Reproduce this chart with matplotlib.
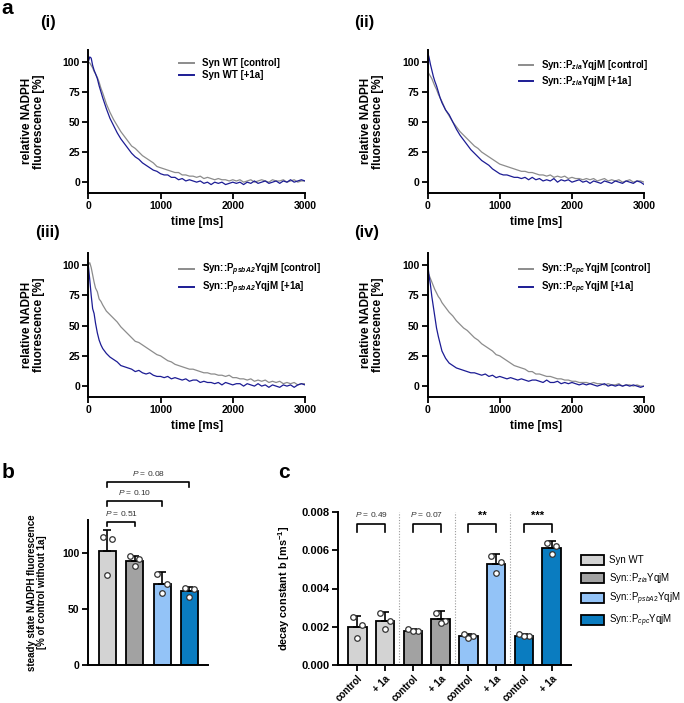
import matplotlib
matplotlib.use("Agg")
import matplotlib.pyplot as plt
from matplotlib.patches import Patch

plt.rcParams['font.family'] = ['Liberation Sans', 'DejaVu Sans']
plt.rcParams['mathtext.fontset'] = 'custom'
plt.rcParams['mathtext.rm'] = 'Liberation Sans'
plt.rcParams['mathtext.it'] = 'Liberation Sans:italic'
plt.rcParams['mathtext.bf'] = 'Liberation Sans:bold'
plt.rcParams['mathtext.bfit'] = 'Liberation Sans:italic:bold'

# ---- panel a: NADPH fluorescence traces ----
time_ms = [0, 20, 40, 60, 80, 100, 125, 150, 175, 200] + list(range(250, 3001, 50))

wt_ctrl = [100, 99, 97, 95, 92, 90, 87, 83, 78, 74,
           65, 58, 52, 47, 42, 38, 34, 30, 28, 25,
           22, 20, 18, 16, 13, 12, 11, 10, 9, 8,
           8, 6, 6, 5, 5, 4, 5, 3, 4, 3,
           2, 3, 2, 2, 1, 2, 1, 2, 0, 1,
           2, 0, 1, 2, 1, 0, 2, 1, 1, 2,
           0, 1, 2, 0, 1, 1]
wt_1a = [100, 104, 103, 97, 93, 90, 86, 80, 75, 70,
         61, 53, 47, 41, 36, 32, 28, 24, 21, 19,
         16, 14, 12, 10, 9, 7, 6, 6, 4, 4,
         2, 3, 1, 2, 1, 0, 1, -1, 0, -2,
         0, -1, 0, -2, -1, 0, -1, 0, -2, 0,
         -1, 1, -1, 0, 1, -1, 0, 1, -1, 1,
         0, 2, 0, 1, 2, 1]
zia_ctrl = [92, 90, 88, 86, 83, 80, 77, 73, 70, 67,
            60, 55, 50, 46, 42, 39, 36, 33, 30, 28,
            25, 23, 21, 19, 17, 15, 14, 13, 12, 11,
            10, 9, 9, 8, 8, 7, 6, 6, 5, 6,
            4, 5, 4, 5, 3, 4, 3, 3, 2, 3,
            2, 3, 1, 2, 3, 1, 2, 1, 2, 0,
            1, 2, 0, 1, 1, 0]
zia_1a = [108, 104, 98, 93, 88, 84, 80, 75, 70, 66,
          60, 56, 50, 44, 39, 35, 31, 27, 24, 21,
          18, 16, 14, 11, 9, 7, 6, 6, 5, 4,
          4, 3, 4, 2, 4, 2, 3, 1, 2, 1,
          3, 0, 2, 1, 2, 0, 1, 2, 0, 1,
          -1, 1, 0, -1, 1, 0, -1, 1, 0, -1,
          1, 0, -1, 1, 0, -2]
psba_ctrl = [100, 102, 98, 92, 86, 81, 78, 72, 70, 67,
             62, 59, 56, 53, 49, 46, 43, 40, 37, 36,
             34, 32, 30, 28, 26, 25, 23, 21, 20, 18,
             17, 16, 15, 14, 14, 13, 12, 11, 11, 10,
             10, 9, 9, 8, 9, 7, 7, 6, 6, 5,
             6, 4, 5, 4, 5, 3, 4, 3, 4, 2,
             3, 2, 3, 1, 2, 2]
psba_1a = [100, 88, 75, 64, 60, 52, 44, 38, 34, 31,
           27, 24, 22, 20, 17, 16, 15, 14, 12, 13,
           11, 10, 11, 9, 8, 8, 7, 8, 6, 7,
           6, 5, 6, 4, 5, 5, 3, 4, 3, 3,
           2, 3, 1, 3, 2, 1, 2, 2, 0, 2,
           1, 0, 2, 0, 1, -1, 1, 0, -1, 1,
           0, 1, -1, 1, 2, 1]
cpc_ctrl = [94, 92, 89, 86, 83, 80, 77, 74, 72, 69,
            65, 61, 58, 54, 51, 48, 46, 43, 40, 38,
            35, 33, 31, 29, 26, 25, 23, 21, 19, 17,
            16, 15, 14, 12, 12, 10, 10, 9, 8, 8,
            7, 6, 6, 5, 5, 4, 4, 3, 3, 3,
            2, 3, 2, 2, 1, 2, 1, 1, 2, 0,
            1, 1, 0, 1, 0, 0]
cpc_1a = [102, 92, 84, 74, 66, 58, 48, 41, 35, 29,
          23, 19, 17, 15, 14, 13, 12, 11, 11, 10,
          9, 10, 8, 9, 7, 8, 7, 6, 7, 6,
          5, 6, 5, 4, 5, 5, 4, 3, 5, 3,
          3, 4, 2, 3, 2, 3, 2, 1, 2, 1,
          2, 1, 0, 1, 2, 0, 1, 0, 1, 0,
          1, 0, 1, 0, -1, 0]

trace_labels = [
    ("Syn WT [control]", "Syn WT [+1a]"),
    ("Syn::P$_{\\mathbfit{zia}}$YqjM [control]", "Syn::P$_{\\mathbfit{zia}}$YqjM [+1a]"),
    ("Syn::P$_{\\mathbfit{psbA2}}$YqjM [control]", "Syn::P$_{\\mathbfit{psbA2}}$YqjM [+1a]"),
    ("Syn::P$_{\\mathbfit{cpc}}$YqjM [control]", "Syn::P$_{\\mathbfit{cpc}}$YqjM [+1a]"),
]
trace_titles = ["(i)", "(ii)", "(iii)", "(iv)"]

# ---- panel b: steady state fluorescence ----
b_means = [102, 93.5, 73, 66]
b_sd = [19, 4.5, 10, 4]
b_points = [[115, 113, 81], [98, 95, 89], [82, 73, 65], [69, 68, 61]]
b_pvalues = ["0.51", "0.10", "0.08"]

# ---- panel c: decay constant ----
strains = ["Syn WT", "Syn::P$_{zia}$YqjM", "Syn::P$_{psbA2}$YqjM", "Syn::P$_{cpc}$YqjM"]
c_conditions = ["control", "+ 1a"] * 4
c_means = [0.0020, 0.0023, 0.0018, 0.0024, 0.0015, 0.0053, 0.0015, 0.0061]
c_sd = [0.00056, 0.00046, 0.0001, 0.00044, 0.0001, 0.00048, 0.0001, 0.0004]
c_points = [[0.0025, 0.0021, 0.0014], [0.0027, 0.0023, 0.0019],
            [0.0019, 0.0018, 0.0018], [0.0027, 0.0023, 0.0022],
            [0.0016, 0.0015, 0.0014], [0.0057, 0.0054, 0.0048],
            [0.0016, 0.0015, 0.0015], [0.0064, 0.0062, 0.0058]]
c_signif = ["$\\mathit{P}$ = 0.49", "$\\mathit{P}$ = 0.07", "**", "***"]

bar_colors = ["#d3d3d3", "#a2a2a2", "#93c3f7", "#0a7cc0"]
ctrl_color = "#8c8c8c"
treat_color = "#1c1c94"
dot_offsets = [-0.17, 0.17, 0.0]

W, H = 684, 703
fig = plt.figure(figsize=(W / 100, H / 100), dpi=100)


def px_axes(left, top, right, bottom):
    return fig.add_axes([left / W, 1 - bottom / H, (right - left) / W, (bottom - top) / H])


def style(ax, size):
    for s in ["top", "right"]:
        ax.spines[s].set_visible(False)
    for s in ["left", "bottom"]:
        ax.spines[s].set_linewidth(1.4)
    ax.tick_params(direction="out", length=4, width=1.3, labelsize=size, pad=2)
    for lab in ax.get_xticklabels() + ax.get_yticklabels():
        lab.set_fontweight("bold")


trace_data = [(wt_ctrl, wt_1a), (zia_ctrl, zia_1a), (psba_ctrl, psba_1a), (cpc_ctrl, cpc_1a)]
boxes = [(88.3, 49.7, 305, 193), (427.5, 49.7, 644.2, 193),
         (88.3, 253, 305, 397), (427.5, 253, 644.2, 397)]
title_pos = [(40, 23), (354, 23), (35, 233), (354, 233)]

for i, ((ctrl, treat), box) in enumerate(zip(trace_data, boxes)):
    ax = px_axes(*box)
    ax.plot(time_ms, ctrl, color=ctrl_color, lw=0.9, label=trace_labels[i][0])
    ax.plot(time_ms, treat, color=treat_color, lw=0.9, label=trace_labels[i][1])
    ax.set_xlim(0, 3000)
    ax.set_ylim(-9, 110)
    ax.set_xticks([0, 1000, 2000, 3000])
    ax.set_yticks([0, 25, 50, 75, 100])
    style(ax, 7.5)
    ax.set_xlabel("time [ms]", fontsize=8.5, fontweight="bold", labelpad=3)
    ax.set_ylabel("relative NADPH\nfluorescence [%]", fontsize=8.5, fontweight="bold",
                  linespacing=1.0)
    ax.yaxis.set_label_coords(-0.2, 0.5)
    leg = ax.legend(loc="upper left", bbox_to_anchor=(0.42, 0.94), frameon=False,
                    borderpad=0, borderaxespad=0, handlelength=1.5, handletextpad=0.8,
                    labelspacing=0.2, prop={"size": 7, "weight": "bold"})
    for hl in leg.get_lines():
        hl.set_linewidth(1.4)
    fig.text(title_pos[i][0] / W, 1 - title_pos[i][1] / H, trace_titles[i],
             fontsize=12, fontweight="bold", va="center")

fig.text(0.002, 1 - 8 / H, "a", fontsize=15, fontweight="bold", va="center")
fig.text(0.002, 1 - 472 / H, "b", fontsize=15, fontweight="bold", va="center")
fig.text(278 / W, 1 - 473 / H, "c", fontsize=15, fontweight="bold", va="center")

# ---- panel b ----
axb = px_axes(88, 520, 208, 665)
xb = list(range(4))
axb.bar(xb, b_means, width=0.62, color=bar_colors, edgecolor="black", linewidth=1.3, zorder=2)
axb.errorbar(xb, b_means, yerr=[[0] * 4, b_sd], fmt="none", ecolor="black",
             elinewidth=1.2, capsize=3, capthick=1.2, zorder=3)
for x, pts in zip(xb, b_points):
    axb.scatter([x + o for o in dot_offsets], pts, s=16, facecolor="white",
                edgecolor="#333333", linewidth=0.9, zorder=4)
axb.set_xlim(-0.71, 3.68)
axb.set_ylim(0, 130)
axb.set_xticks([])
axb.set_yticks([0, 50, 100])
style(axb, 7.5)
axb.set_ylabel("steady state NADPH fluorescence\n[% of control without 1a]",
               fontsize=7, fontweight="bold", linespacing=1.0)
axb.yaxis.set_label_coords(-0.34, 0.5)
for k, (yb, pv) in enumerate(zip([128.5, 147, 164], b_pvalues)):
    x1 = k + 1
    axb.plot([0, 0, x1, x1], [yb - 4, yb, yb, yb - 4], color="black", lw=1.2,
             clip_on=False)
    axb.text(x1 / 2, yb + 3.5, "$\\mathit{P}$ = " + pv, ha="center", va="bottom",
             fontsize=6, color="#333333", clip_on=False)

# ---- panel c ----
axc = px_axes(338, 512, 571, 665)
xc = list(range(8))
c_colors = [c for c in bar_colors for _ in range(2)]
axc.bar(xc, c_means, width=0.67, color=c_colors, edgecolor="black", linewidth=1.3, zorder=2)
axc.errorbar(xc, c_means, yerr=[[0] * 8, c_sd], fmt="none", ecolor="black",
             elinewidth=1.2, capsize=3, capthick=1.2, zorder=3)
for x, pts in zip(xc, c_points):
    axc.scatter([x + o for o in dot_offsets], pts, s=16, facecolor="white",
                edgecolor="#333333", linewidth=0.9, zorder=4)
for xs in [1.5, 3.5, 5.5]:
    axc.plot([xs, xs], [0, 0.008], color="#9a9a9a", lw=0.8, ls=(0, (1, 1.5)), zorder=1)
axc.set_xlim(-0.70, 7.7)
axc.set_ylim(0, 0.008)
axc.set_yticks([0, 0.002, 0.004, 0.006, 0.008])
axc.set_yticklabels(["0.000", "0.002", "0.004", "0.006", "0.008"])
axc.set_xticks(xc)
axc.set_xticklabels(c_conditions, rotation=45, ha="right", va="top", rotation_mode="anchor")
style(axc, 8)
for lab in axc.get_xticklabels():
    lab.set_fontsize(7)
axc.set_ylabel("decay constant b [ms$^{\\mathbf{-1}}$]", fontsize=7.8, fontweight="bold")
axc.yaxis.set_label_coords(-0.197, 0.5)
for k, txt in enumerate(c_signif):
    x0, x1 = 2 * k, 2 * k + 1
    axc.plot([x0, x0, x1, x1], [0.00695, 0.00737, 0.00737, 0.00695], color="black", lw=1.2)
    if txt.startswith("*"):
        axc.text((x0 + x1) / 2, 0.00752, txt, ha="center", va="bottom", fontsize=8,
                 fontweight="bold")
    else:
        axc.text((x0 + x1) / 2, 0.00762, txt, ha="center", va="bottom", fontsize=6,
                 color="#333333")

handles = [Patch(facecolor=c, edgecolor="black", linewidth=1.3) for c in bar_colors]
axc.legend(handles, strains, loc="center left", bbox_to_anchor=(581 / W, 1 - 592 / H),
           bbox_transform=fig.transFigure, frameon=False, borderpad=0, borderaxespad=0,
           handlelength=2.4, handleheight=1.2, handletextpad=0.45, labelspacing=0.6,
           prop={"size": 7})

fig.savefig("out.png", dpi=100)
